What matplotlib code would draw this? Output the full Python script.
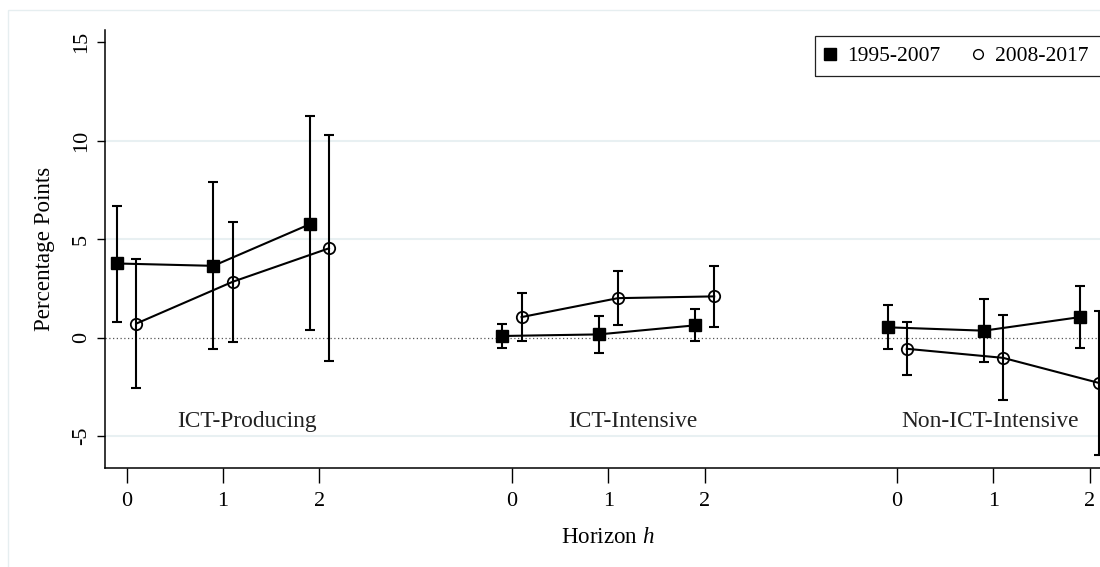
import matplotlib
matplotlib.use("Agg")
import matplotlib.pyplot as plt
from matplotlib.lines import Line2D
from matplotlib.patches import Rectangle

plt.rcParams['font.family'] = ['Liberation Serif', 'DejaVu Serif']
plt.rcParams['mathtext.fontset'] = 'custom'
plt.rcParams['mathtext.it'] = 'Liberation Serif:italic'
plt.rcParams['mathtext.rm'] = 'Liberation Serif'

# horizons and sector groups
horizons = [0, 1, 2]
groups = ["ICT-Producing", "ICT-Intensive", "Non-ICT-Intensive"]
periods = ["1995-2007", "2008-2017"]

# 1995-2007 estimates and confidence bands, one row per group
early_coef = [[3.76, 3.64, 5.75], [0.08, 0.16, 0.62], [0.52, 0.35, 1.04]]
early_lo = [[0.79, -0.60, 0.37], [-0.52, -0.78, -0.17], [-0.59, -1.24, -0.53]]
early_hi = [[6.67, 7.88, 11.23], [0.70, 1.07, 1.43], [1.67, 1.96, 2.63]]

# 2008-2017 estimates and confidence bands
late_coef = [[0.71, 2.83, 4.53], [1.04, 2.00, 2.09], [-0.57, -1.03, -2.31]]
late_lo = [[-2.56, -0.22, -1.20], [-0.16, 0.62, 0.54], [-1.89, -3.16, -5.95]]
late_hi = [[3.98, 5.88, 10.26], [2.27, 3.38, 3.65], [0.78, 1.17, 1.36]]

yticks = [-5, 0, 5, 10, 15]
grid_levels = [-5, 5, 10]
label_x = [1.25, 5.26, 8.96]  # where the group names sit
label_y = -4.25

W, H = 1100, 567
fig = plt.figure(figsize=(W / 100, H / 100), dpi=100)
fig.patch.set_facecolor("white")

# faint outer frame of the graph region (runs off the right / bottom edge)
fig.patches.append(Rectangle((8 / W, -0.2), 1.5, 1.2 - 10 / H, transform=fig.transFigure,
                             fill=False, edgecolor="#e6eef0", lw=1.0))

# axes run past the right edge, like the cropped original
ax = fig.add_axes([105 / W, 99 / H, 1006 / W, 438 / H])
ax.set_xlim(-0.225, 10.22)
ax.set_ylim(-6.62, 15.61)

for lev in grid_levels:
    ax.axhline(lev, color="#e8f0f2", lw=1.5, zorder=0)
ax.axhline(0, color="#555555", lw=0.9, ls=(0, (1, 2)), zorder=1)

offset = 0.1
for g in range(len(groups)):
    base = [4 * g + h for h in horizons]
    xe = [b - offset for b in base]
    xl = [b + offset for b in base]

    ye = early_coef[g]
    err_e = [[c - lo for c, lo in zip(ye, early_lo[g])], [hi - c for c, hi in zip(ye, early_hi[g])]]
    ax.errorbar(xe, ye, yerr=err_e, fmt="none", ecolor="black", elinewidth=1.5,
                capsize=3.6, capthick=1.5, zorder=2)
    ax.plot(xe, ye, color="black", lw=1.5, marker="s", ms=8.8,
            mfc="black", mec="black", zorder=3)

    yl = late_coef[g]
    err_l = [[c - lo for c, lo in zip(yl, late_lo[g])], [hi - c for c, hi in zip(yl, late_hi[g])]]
    ax.errorbar(xl, yl, yerr=err_l, fmt="none", ecolor="black", elinewidth=1.5,
                capsize=3.6, capthick=1.5, zorder=2)
    ax.plot(xl, yl, color="black", lw=1.5, marker="o", ms=8.2, mfc="none",
            mec="black", mew=1.3, zorder=3)

    ax.text(label_x[g], label_y, groups[g], ha="center", va="center",
            fontsize=16.8, color="#222222")

xt = [4 * g + h for g in range(len(groups)) for h in horizons]
ax.set_xticks(xt)
ax.set_xticklabels([str(h) for g in groups for h in horizons])
ax.set_yticks(yticks)
ax.set_yticklabels([str(v) for v in yticks], rotation=90, va="center")

ax.tick_params(axis="x", length=11, width=1.0, pad=6, labelsize=16, colors="black")
ax.tick_params(axis="y", length=6, width=1.0, pad=4, labelsize=16, colors="black")

for s in ["top", "right"]:
    ax.spines[s].set_visible(False)
for s in ["left", "bottom"]:
    ax.spines[s].set_linewidth(1.1)

ax.set_ylabel("Percentage Points", fontsize=16.6)
ax.yaxis.set_label_coords(-0.05, 0.5)
ax.set_xlabel("Horizon $h$", fontsize=16.6)
ax.xaxis.set_label_coords(0.5, -0.135)

# legend, framed by a box that runs off the right side
handles = [
    Line2D([], [], ls="none", marker="s", ms=8, mfc="black", mec="black"),
    Line2D([], [], ls="none", marker="o", ms=7, mfc="none", mec="black", mew=1.0),
]
fig.legend(handles, periods, loc="center left", bbox_to_anchor=(819 / W, 1 - 56 / H),
           ncol=2, frameon=False, fontsize=15.5, handlelength=1.0, handletextpad=0.3,
           columnspacing=1.25, borderpad=0, borderaxespad=0)
fig.patches.append(Rectangle((815 / W, 1 - 76 / H), 0.4, 40 / H, transform=fig.transFigure,
                             fill=False, edgecolor="#222222", lw=0.9))

fig.savefig("out.png", dpi=100)
